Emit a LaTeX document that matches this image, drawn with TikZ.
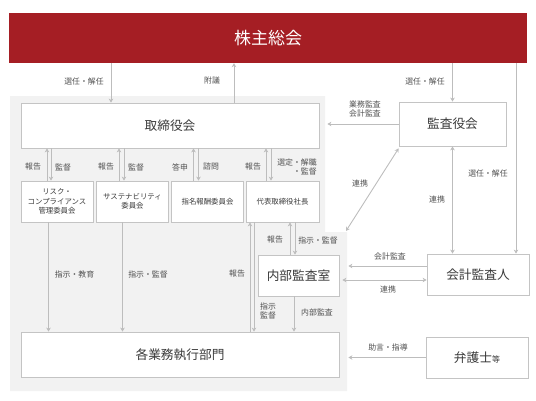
\documentclass[tikz,border=0pt]{standalone}
\usepackage{fontspec}
\usetikzlibrary{arrows.meta}
\newfontfamily\jpfont{Noto Sans CJK JP}
\newcommand\boxfont{\fontsize{12.7}{15}\selectfont}
\newcommand\smallfont{\fontsize{7.4}{9.2}\selectfont}
\definecolor{kred}{HTML}{A51E24}
\definecolor{kline}{HTML}{BDBDBD}
\definecolor{kbox}{HTML}{C4C4C4}
\definecolor{kpanel}{HTML}{F2F2F2}
\definecolor{ktext}{HTML}{3A3A3A}
\definecolor{klabel}{HTML}{505050}

\begin{document}
\begin{tikzpicture}[x=1pt,y=-1pt]
\tikzstyle{every node}=[font=\jpfont, text=ktext]
\tikzstyle{box}=[draw=kbox, fill=white, line width=0.8pt, inner sep=0pt, align=center]
\tikzstyle{lbl}=[font=\jpfont\fontsize{7.9}{9.6}\selectfont, text=klabel, inner sep=0pt]
\tikzstyle{conn}=[draw=kline, line width=0.9pt, -{Stealth[length=4pt,width=4.5pt]}]
\tikzstyle{both}=[draw=kline, line width=0.9pt, {Stealth[length=4pt,width=4.5pt]}-{Stealth[length=4pt,width=4.5pt]}]
\useasboundingbox (0,0) rectangle (536,400);
% gray panel
\fill[kpanel] (10,96) -- (325,96) -- (325,232) -- (347,232) -- (347,391) -- (10,391) -- cycle;
% boxes
\node[fill=kred, minimum width=518, minimum height=50, inner sep=0pt, text=white, font=\jpfont\fontsize{17}{20}\selectfont] (soukai) at (268,38) {株主総会};
\node[box, minimum width=298, minimum height=45, font=\jpfont\boxfont] (torishimari) at (170,125.5) {取締役会};
\node[box, minimum width=72, minimum height=41, font=\jpfont\smallfont] (c1) at (57,201.5) {リスク・\\コンプライアンス\\管理委員会};
\node[box, minimum width=72, minimum height=41, font=\jpfont\smallfont] (c2) at (132.5,201.5) {サステナビリティ\\委員会};
\node[box, minimum width=72, minimum height=41, font=\jpfont\smallfont] (c3) at (207.5,201.5) {指名報酬委員会};
\node[box, minimum width=73, minimum height=41, font=\jpfont\smallfont] (c4) at (282.5,201.5) {代表取締役社長};
\node[box, minimum width=81, minimum height=41, font=\jpfont\boxfont] (naibu) at (298.5,275.5) {内部監査室};
\node[box, minimum width=318, minimum height=45, font=\jpfont\boxfont] (kakugyomu) at (180,354.5) {各業務執行部門};
\node[box, minimum width=107, minimum height=44, font=\jpfont\boxfont] (kansayaku) at (452.5,124) {監査役会};
\node[box, minimum width=102, minimum height=41, font=\jpfont\boxfont] (kaikei) at (478,274.5) {会計監査人};
\node[box, minimum width=102, minimum height=41, font=\jpfont\boxfont] (bengoshi) at (477,357.5) {弁護士{\fontsize{8}{10}\selectfont 等}};
\coordinate (renkeiend) at (346,231);
% 株主総会 connectors
\draw[conn] ([xshift=-59pt]torishimari.north |- soukai.south) -- ([xshift=-59pt]torishimari.north);
\draw[conn] ([xshift=64pt]torishimari.north) -- ([xshift=64pt]torishimari.north |- soukai.south);
\draw[conn] (kansayaku.north |- soukai.south) -- (kansayaku.north);
\draw[conn] ([xshift=38pt]kaikei.north |- soukai.south) -- ([xshift=38pt]kaikei.north);
\node[lbl] (l1) at (84,81) {選任・解任};
\node[lbl] (l2) at (212,81) {附議};
\node[lbl] (l3) at (425,81) {選任・解任};
\node[lbl] (l4) at (488,173) {選任・解任};
% 取締役会 and committees
\draw[conn] ([xshift=-10pt]c1.north) -- ([xshift=-10pt]c1.north |- torishimari.south);
\draw[conn] ([xshift=-6pt]c1.north |- torishimari.south) -- ([xshift=-6pt]c1.north);
\draw[conn] ([xshift=-13.5pt]c2.north) -- ([xshift=-13.5pt]c2.north |- torishimari.south);
\draw[conn] ([xshift=-8.5pt]c2.north |- torishimari.south) -- ([xshift=-8.5pt]c2.north);
\draw[conn] ([xshift=-14pt]c3.north) -- ([xshift=-14pt]c3.north |- torishimari.south);
\draw[conn] ([xshift=-9pt]c3.north |- torishimari.south) -- ([xshift=-9pt]c3.north);
\draw[conn] ([xshift=-16.5pt]c4.north) -- ([xshift=-16.5pt]c4.north |- torishimari.south);
\draw[conn] ([xshift=-11.5pt]c4.north |- torishimari.south) -- ([xshift=-11.5pt]c4.north);
\node[lbl] (l5) at (33,167) {報告};
\node[lbl] (l6) at (63,167) {監督};
\node[lbl] (l7) at (106,167) {報告};
\node[lbl] (l8) at (136,167) {監督};
\node[lbl] (l9) at (180,167) {答申};
\node[lbl] (l10) at (211,167) {諮問};
\node[lbl] (l11) at (253,167) {報告};
\node[lbl, align=right] (l12) at (297,167) {選定・解職\\・監督};
% committees to 各業務執行部門
\draw[conn] ([xshift=-8.5pt]c1.south) -- ([xshift=-8.5pt]c1.south |- kakugyomu.north);
\draw[conn] ([xshift=-10pt]c2.south) -- ([xshift=-10pt]c2.south |- kakugyomu.north);
\draw[conn] ([xshift=-32.5pt]c4.south |- kakugyomu.north) -- ([xshift=-32.5pt]c4.south);
\draw[conn] ([xshift=-28.5pt]c4.south) -- ([xshift=-28.5pt]c4.south |- kakugyomu.north);
\node[lbl] (l13) at (74.5,274) {指示・教育};
\node[lbl] (l14) at (148,274) {指示・監督};
\node[lbl] (l15) at (237,274) {報告};
\node[lbl, align=left] (l16) at (268,311) {指示\\監督};
% 内部監査室
\draw[conn] ([xshift=7.5pt]c4.south |- naibu.north) -- ([xshift=7.5pt]c4.south);
\draw[conn] ([xshift=12.5pt]c4.south) -- ([xshift=12.5pt]c4.south |- naibu.north);
\draw[conn] ([xshift=-4.5pt]naibu.south) -- ([xshift=-4.5pt]naibu.south |- kakugyomu.north);
\node[lbl] (l17) at (275,240) {報告};
\node[lbl] (l18) at (318,240) {指示・監督};
\node[lbl] (l19) at (317,312) {内部監査};
% 監査役会
\draw[conn, shorten >=8pt] (kansayaku.west) -- (kansayaku.west -| torishimari.east);
\draw[both] ([yshift=-2pt]kansayaku.south west) -- (renkeiend);
\draw[both] (kansayaku.south) -- (kansayaku.south |- kaikei.north);
\node[lbl, align=center] (l20) at (365,109) {業務監査\\会計監査};
\node[lbl] (l21) at (360,183) {連携};
\node[lbl] (l22) at (437,200) {連携};
% 会計監査人 and 弁護士等
\draw[conn, shorten >=9pt] ([yshift=8.5pt]kaikei.west) -- ([yshift=8.5pt]kaikei.west -| naibu.east);
\draw[both, shorten <=3pt] ([yshift=-5.5pt]kaikei.west -| naibu.east) -- ([yshift=-5.5pt]kaikei.west);
\draw[conn, shorten >=9pt] (bengoshi.west) -- (bengoshi.west -| kakugyomu.east);
\node[lbl] (l23) at (390,257) {会計監査};
\node[lbl] (l24) at (388,289) {連携};
\node[lbl] (l25) at (388,347) {助言・指導};
\end{tikzpicture}
\end{document}
